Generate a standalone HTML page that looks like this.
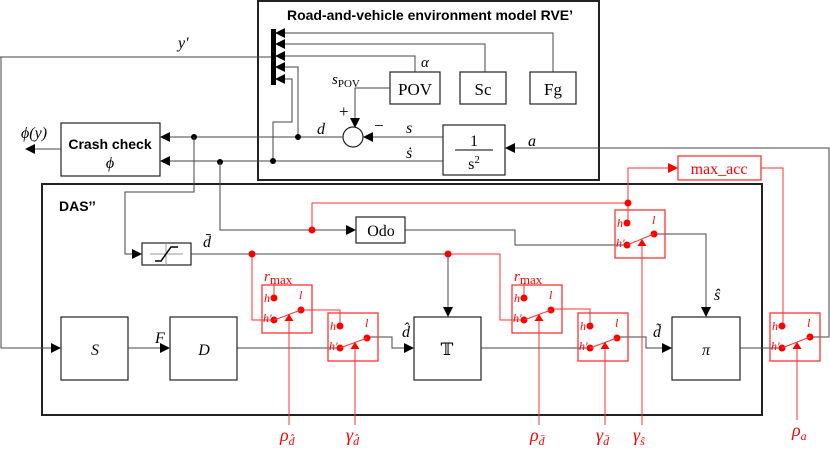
<!DOCTYPE html>
<html><head><meta charset="utf-8"><style>
html,body{margin:0;padding:0;background:#fff;}
svg{display:block;}
text{font-family:"Liberation Serif",serif;}
.k{stroke:#444;stroke-width:1;fill:none;}
.r{stroke:#f33;stroke-width:1;fill:none;}
.b{stroke:#222;stroke-width:1.2;fill:#fff;}
.rb{stroke:#f33;stroke-width:1.3;fill:none;}
.it{font-style:italic;}
</style></head><body>
<svg width="830" height="457" viewBox="0 0 830 457" xmlns="http://www.w3.org/2000/svg">
<defs>
<marker id="a" markerWidth="10" markerHeight="10" refX="9" refY="5" orient="auto" markerUnits="userSpaceOnUse"><path d="M0,0 L10,5 L0,10z" fill="#000"/></marker>
<marker id="ar" markerWidth="10" markerHeight="10" refX="9" refY="5" orient="auto" markerUnits="userSpaceOnUse"><path d="M0,0 L10,5 L0,10z" fill="#f00"/></marker>
</defs>

<rect x="258" y="1" width="341" height="179" fill="none" stroke="#222" stroke-width="2"/>
<text x="430" y="20" text-anchor="middle" font-weight="bold" font-size="14" style="font-family:'Liberation Sans',sans-serif">Road-and-vehicle environment model RVE’</text>
<rect x="271" y="29" width="5" height="56" fill="#000"/>
<path class="k" d="M553,72 V33 H276" marker-end="url(#a)"/>
<path class="k" d="M485,72 V44 H276" marker-end="url(#a)"/>
<path class="k" d="M415,72 V56 H276" marker-end="url(#a)"/>
<path class="k" d="M0,57 H271"/>
<path class="k" d="M298,137 V67 H276" marker-end="url(#a)"/>
<path class="k" d="M273,161 V122 H292 V79 H276" marker-end="url(#a)"/>
<rect class="b" x="390" y="72" width="50" height="32"/>
<text x="415" y="95" text-anchor="middle" font-size="17">POV</text>
<rect class="b" x="460" y="72" width="46" height="32"/>
<text x="483" y="95" text-anchor="middle" font-size="17">Sc</text>
<rect class="b" x="530" y="72" width="46" height="32"/>
<text x="553" y="95" text-anchor="middle" font-size="17">Fg</text>
<text x="421" y="67" class="it" font-size="15">α</text>
<text x="332" y="84" class="it" font-size="15">s<tspan font-style="normal" font-size="11" dy="3">POV</tspan></text>
<path class="k" d="M390,88 H355 V127" marker-end="url(#a)"/>
<circle cx="353" cy="137" r="10" fill="#fff" stroke="#222" stroke-width="1.2"/>
<text x="339" y="117" font-size="17">+</text>
<text x="374" y="131" font-size="17">−</text>
<rect class="b" x="443" y="125" width="62" height="50"/>
<text x="474" y="146" text-anchor="middle" font-size="16">1</text>
<line x1="455" y1="150" x2="493" y2="150" stroke="#000"/>
<text x="474" y="169" text-anchor="middle" font-size="16">s<tspan font-size="11" dy="-6">2</tspan></text>
<path class="k" d="M443,137 H364" marker-end="url(#a)"/>
<text x="406" y="133" class="it" font-size="16">s</text>
<text x="406" y="158" class="it" font-size="16">ṡ</text>
<path class="k" d="M443,161 H161" marker-end="url(#a)"/>
<path class="k" d="M343,137 H161" marker-end="url(#a)"/>
<text x="317" y="134" class="it" font-size="16">d</text>
<path class="k" d="M811,337 H829 V148 H506" marker-end="url(#a)"/>
<text x="528" y="146" class="it" font-size="16">a</text>
<circle cx="298" cy="137" r="3" fill="#000"/>
<circle cx="273" cy="161" r="3" fill="#000"/>
<circle cx="194" cy="137" r="3" fill="#000"/>
<circle cx="220" cy="162" r="3" fill="#000"/>
<text x="178" y="48" class="it" font-size="16">y′</text>

<rect class="b" x="61" y="123" width="99" height="53"/>
<text x="110" y="149" text-anchor="middle" font-weight="bold" font-size="14" style="font-family:'Liberation Sans',sans-serif">Crash check</text>
<text x="110" y="168" text-anchor="middle" class="it" font-size="16">ϕ</text>
<path class="k" d="M61,149 H26" marker-end="url(#a)"/>
<text x="21" y="138" class="it" font-size="16">ϕ(y)</text>

<rect x="42" y="184" width="720" height="231" fill="none" stroke="#222" stroke-width="2"/>
<text x="59" y="211" font-weight="bold" font-size="14" style="font-family:'Liberation Sans',sans-serif">DAS’’</text>

<path class="k" d="M1,57 V348 H60" marker-end="url(#a)"/>
<rect class="b" x="61" y="317" width="67" height="63"/>
<text x="95" y="355" text-anchor="middle" class="it" font-size="16">S</text>
<path class="k" d="M128,348 H169" marker-end="url(#a)"/>
<text x="155" y="343" class="it" font-size="16">F</text>
<rect class="b" x="170" y="317" width="67" height="63"/>
<text x="204" y="355" text-anchor="middle" class="it" font-size="16">D</text>

<path class="k" d="M194,137 V192 H125 V254 H141" marker-end="url(#a)"/>
<rect class="b" x="142" y="243" width="49" height="22"/>
<line x1="166" y1="243" x2="166" y2="265" stroke="#999"/>
<line x1="150" y1="254" x2="183" y2="254" stroke="#999"/>
<path d="M155,261 H161 L171,247 H178" stroke="#000" stroke-width="1.5" fill="none"/>
<path class="k" d="M191,254 H448"/>
<text x="203" y="247" class="it" font-size="16">d̄</text>
<path class="k" d="M448,254 V316" marker-end="url(#a)"/>
<path class="r" d="M252,254 V320 H274"/>
<path class="r" d="M448,254 H500 V320 H524"/>
<circle cx="252" cy="254" r="3.5" fill="#f00"/>
<circle cx="448" cy="254" r="3.5" fill="#f00"/>

<path class="k" d="M220,162 V230 H355" marker-end="url(#a)"/>
<rect class="b" x="356" y="217" width="49" height="26"/>
<text x="381" y="236" text-anchor="middle" font-size="16">Odo</text>
<path class="k" d="M405,230 H515 V245 H627"/>
<path class="r" d="M312,230 V203 H628"/>
<circle cx="312" cy="230" r="3.5" fill="#f00"/>
<path class="r" d="M628,223 V168 H677" marker-end="url(#ar)"/>
<circle cx="628" cy="203" r="3.5" fill="#f00"/>
<rect x="678" y="156" width="83" height="24" fill="none" stroke="#f33" stroke-width="1.3"/>
<text x="719" y="174" text-anchor="middle" font-size="16" fill="#f00">max_acc</text>
<path class="r" d="M761,168 H783 V326"/>

<rect class="b" x="414" y="317" width="67" height="63"/>
<text x="447" y="355" text-anchor="middle" font-size="17" style="font-family:'DejaVu Serif','DejaVu Sans',serif">𝕋</text>
<rect class="b" x="672" y="317" width="68" height="63"/>
<text x="706" y="355" text-anchor="middle" class="it" font-size="16">π</text>

<path class="k" d="M237,348 H340"/>
<path class="r" d="M301,310 H340 V326"/>
<path class="k" d="M367,337 H392 V348 H413" marker-end="url(#a)"/>
<text x="402" y="337" class="it" font-size="16">d̂</text>
<path class="k" d="M481,348 H590"/>
<path class="r" d="M551,309 H590 V326"/>
<path class="k" d="M617,337 H646 V348 H671" marker-end="url(#a)"/>
<text x="653" y="337" class="it" font-size="16">d̃</text>
<path class="k" d="M654,234 H706 V316" marker-end="url(#a)"/>
<text x="714" y="300" class="it" font-size="16">ŝ</text>
<path class="k" d="M740,348 H782"/>
<path class="r" d="M274,298 V283"/>
<path class="r" d="M524,298 V283"/>
<text x="264" y="281" class="it" font-size="15" fill="#f00">r<tspan font-style="normal" font-size="13" dy="3">max</tspan></text>
<text x="514" y="281" class="it" font-size="15" fill="#f00">r<tspan font-style="normal" font-size="13" dy="3">max</tspan></text>

<g transform="translate(262,285)">
<rect class="rb" x="0" y="0" width="50" height="48"/>
<circle cx="12" cy="13" r="3.5" fill="#f00"/><circle cx="12" cy="35" r="3.5" fill="#f00"/><circle cx="39" cy="25" r="3.5" fill="#f00"/>
<line class="r" x1="12" y1="35" x2="39" y2="25"/>
<path d="M27,29 L22.5,36 L31.5,36z" fill="#f00"/>
<text x="2" y="17" class="it" font-size="12" fill="#f00">h</text><text x="1" y="37" class="it" font-size="12" fill="#f00">h′</text><text x="37" y="14" class="it" font-size="12" fill="#f00">l</text>
</g>
<g transform="translate(328,313)">
<rect class="rb" x="0" y="0" width="50" height="48"/>
<circle cx="12" cy="13" r="3.5" fill="#f00"/><circle cx="12" cy="35" r="3.5" fill="#f00"/><circle cx="39" cy="25" r="3.5" fill="#f00"/>
<line class="r" x1="12" y1="35" x2="39" y2="25"/>
<path d="M27,29 L22.5,36 L31.5,36z" fill="#f00"/>
<text x="2" y="17" class="it" font-size="12" fill="#f00">h</text><text x="1" y="37" class="it" font-size="12" fill="#f00">h′</text><text x="37" y="14" class="it" font-size="12" fill="#f00">l</text>
</g>
<g transform="translate(512,285)">
<rect class="rb" x="0" y="0" width="50" height="48"/>
<circle cx="12" cy="13" r="3.5" fill="#f00"/><circle cx="12" cy="35" r="3.5" fill="#f00"/><circle cx="39" cy="25" r="3.5" fill="#f00"/>
<line class="r" x1="12" y1="35" x2="39" y2="25"/>
<path d="M27,29 L22.5,36 L31.5,36z" fill="#f00"/>
<text x="2" y="17" class="it" font-size="12" fill="#f00">h</text><text x="1" y="37" class="it" font-size="12" fill="#f00">h′</text><text x="37" y="14" class="it" font-size="12" fill="#f00">l</text>
</g>
<g transform="translate(578,313)">
<rect class="rb" x="0" y="0" width="50" height="48"/>
<circle cx="12" cy="13" r="3.5" fill="#f00"/><circle cx="12" cy="35" r="3.5" fill="#f00"/><circle cx="39" cy="25" r="3.5" fill="#f00"/>
<line class="r" x1="12" y1="35" x2="39" y2="25"/>
<path d="M27,29 L22.5,36 L31.5,36z" fill="#f00"/>
<text x="2" y="17" class="it" font-size="12" fill="#f00">h</text><text x="1" y="37" class="it" font-size="12" fill="#f00">h′</text><text x="37" y="14" class="it" font-size="12" fill="#f00">l</text>
</g>
<g transform="translate(615,210)">
<rect class="rb" x="0" y="0" width="50" height="48"/>
<circle cx="12" cy="13" r="3.5" fill="#f00"/><circle cx="12" cy="35" r="3.5" fill="#f00"/><circle cx="39" cy="24" r="3.5" fill="#f00"/>
<line class="r" x1="12" y1="35" x2="39" y2="24"/>
<path d="M27,29 L22.5,36 L31.5,36z" fill="#f00"/>
<text x="2" y="17" class="it" font-size="12" fill="#f00">h</text><text x="1" y="37" class="it" font-size="12" fill="#f00">h′</text><text x="37" y="14" class="it" font-size="12" fill="#f00">l</text>
</g>
<g transform="translate(770,313)">
<rect class="rb" x="0" y="0" width="50" height="48"/>
<circle cx="12" cy="13" r="3.5" fill="#f00"/><circle cx="12" cy="35" r="3.5" fill="#f00"/><circle cx="40" cy="24" r="3.5" fill="#f00"/>
<line class="r" x1="12" y1="35" x2="40" y2="24"/>
<path d="M27,29 L22.5,36 L31.5,36z" fill="#f00"/>
<text x="2" y="17" class="it" font-size="12" fill="#f00">h</text><text x="1" y="37" class="it" font-size="12" fill="#f00">h′</text><text x="37" y="14" class="it" font-size="12" fill="#f00">l</text>
</g>

<path class="r" d="M289,321 V425"/>
<path class="r" d="M355,349 V425"/>
<path class="r" d="M539,321 V425"/>
<path class="r" d="M605,349 V425"/>
<path class="r" d="M642,246 V425"/>
<path class="r" d="M797,349 V420"/>
<text x="280" y="441" class="it" font-size="18" fill="#f00">ρ<tspan font-size="12" dy="4">d̂</tspan></text>
<text x="346" y="441" class="it" font-size="18" fill="#f00">γ<tspan font-size="12" dy="4">d̂</tspan></text>
<text x="530" y="441" class="it" font-size="18" fill="#f00">ρ<tspan font-size="12" dy="4">d̄</tspan></text>
<text x="596" y="441" class="it" font-size="18" fill="#f00">γ<tspan font-size="12" dy="4">d̄</tspan></text>
<text x="633" y="441" class="it" font-size="18" fill="#f00">γ<tspan font-size="12" dy="4">ŝ</tspan></text>
<text x="792" y="436" class="it" font-size="18" fill="#f00">ρ<tspan font-size="12" dy="4">a</tspan></text>
</svg>
</body></html>
